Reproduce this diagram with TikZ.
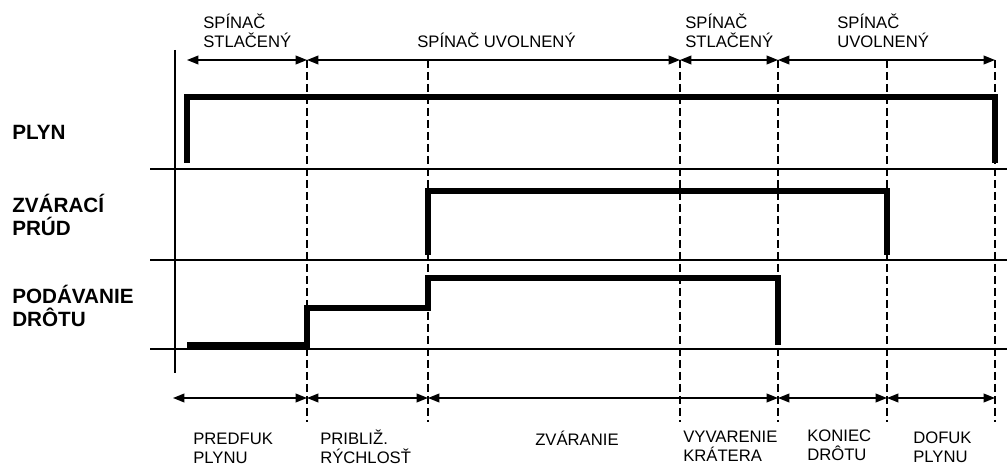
\documentclass[tikz,border=0pt]{standalone}
\usepackage{fontspec}
\setmainfont{Liberation Sans}
\usetikzlibrary{arrows.meta}

\begin{document}
\begin{tikzpicture}[x=0.75pt,y=-0.75pt,>={Triangle[length=8.5pt,width=6.5pt]},
  rl/.style={font=\bfseries\fontsize{15.5}{17.5}\selectfont,align=left,anchor=base west,inner sep=0pt},
  tl/.style={font=\fontsize{12.5}{14.5}\selectfont,align=left,anchor=base west,inner sep=0pt},
  sg/.style={line width=4.8pt,line join=miter},
  ax/.style={line width=1.9pt},
  dl/.style={line width=1.1pt,dash pattern=on 6pt off 3pt},
  ar/.style={<->,line width=1.2pt}]
\useasboundingbox (0,0) rectangle (1007,466);
% casove znacky
\coordinate (su) at (187,60); \coordinate (sd) at (173,398);
\foreach \n/\x in {t1/307,t2/428,t3/680,t4/778,t5/887,t6/995}{
  \coordinate (\n u) at (\x,60);
  \coordinate (\n d) at (\x,398);
  \draw[dl] (\x,60) -- (\x,422);
}
% osi
\draw[ax] (175,50) -- (175,373);
\foreach \y in {169,260,349} \draw[ax] (150,\y) -- (1007,\y);
% popisy riadkov (base = posledny riadok)
\node[rl] (plyn) at (12,140) {PLYN};
\node[rl] (prud) at (12,236) {ZVÁRACÍ\\PRÚD};
\node[rl] (drot) at (12,327) {PODÁVANIE\\DRÔTU};
% signaly
\draw[sg] (187,163) -- (187,97) -- (t6u |- 0,97) -- (t6u |- 0,163);
\draw[sg] (t2u |- 0,255) -- (t2u |- 0,191) -- (t5u |- 0,191) -- (t5u |- 0,255);
\draw[sg] (187,345) -- (t1u |- 0,345) -- (t1u |- 0,308) -- (t2u |- 0,308) -- (t2u |- 0,278) -- (t4u |- 0,278) -- (t4u |- 0,345);
% spinac
\draw[ar] (su) -- (t1u); \draw[ar] (t1u) -- (t3u); \draw[ar] (t3u) -- (t4u); \draw[ar] (t4u) -- (t6u);
\node[tl] (st1) at (203,48) {SPÍNAČ\\STLAČENÝ};
\node[tl] (uv1) at (417,48) {SPÍNAČ UVOLNENÝ};
\node[tl] (st2) at (685,48) {SPÍNAČ\\STLAČENÝ};
\node[tl] (uv2) at (837,48) {SPÍNAČ\\UVOLNENÝ};
% fazy
\draw[ar] (sd) -- (t1d); \draw[ar] (t1d) -- (t2d); \draw[ar] (t2d) -- (t4d); \draw[ar] (t4d) -- (t5d); \draw[ar] (t5d) -- (t6d);
\node[tl] (pre) at (193,464) {PREDFUK\\PLYNU};
\node[tl] (pri) at (320,464) {PRIBLIŽ.\\RÝCHLOSŤ};
\node[tl] (zva) at (535,446) {ZVÁRANIE};
\node[tl] (vyv) at (683,462) {VYVARENIE\\KRÁTERA};
\node[tl] (kon) at (807,461) {KONIEC\\DRÔTU};
\node[tl] (dof) at (913,463) {DOFUK\\PLYNU};
\end{tikzpicture}
\end{document}
